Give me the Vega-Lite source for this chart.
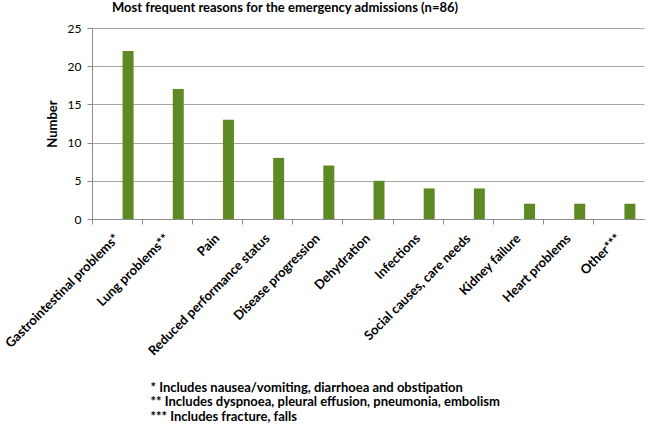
{
  "$schema": "https://vega.github.io/schema/vega-lite/v6.json",
  "autosize": "none",
  "width": 552,
  "height": 191,
  "padding": {"left": 92, "top": 28, "right": 4, "bottom": 213},
  "background": "white",
  "title": {
    "text": "Most frequent reasons for the emergency admissions (n=86)",
    "anchor": "start",
    "frame": "group",
    "dx": 20,
    "offset": 7,
    "font": "Lato",
    "fontSize": 13,
    "fontWeight": "bold",
    "color": "#000000"
  },
  "data": {
    "values": [
      {"reason": "Gastrointestinal  problems*", "n": 22},
      {"reason": "Lung problems**", "n": 17},
      {"reason": "Pain", "n": 13},
      {"reason": "Reduced performance  status", "n": 8},
      {"reason": "Disease progression", "n": 7},
      {"reason": "Dehydration", "n": 5},
      {"reason": "Infections", "n": 4},
      {"reason": "Social causes, care needs", "n": 4},
      {"reason": "Kidney failure", "n": 2},
      {"reason": "Heart problems", "n": 2},
      {"reason": "Other***", "n": 2}
    ]
  },
  "mark": {"type": "bar", "width": 11, "xOffset": 11, "color": "#5E8A24"},
  "encoding": {
    "x": {
      "field": "reason",
      "type": "nominal",
      "sort": null,
      "scale": {"paddingInner": 0, "paddingOuter": 0},
      "axis": {
        "labelAngle": -45,
        "labelAlign": "right",
        "labelBaseline": "middle",
        "labelFont": "Lato",
        "labelFontSize": 13,
        "labelFontWeight": "bold",
        "labelColor": "#000000",
        "labelPadding": 12,
        "bandPosition": 0,
        "domainColor": "#8c8c8c",
        "tickColor": "#8c8c8c",
        "tickSize": 5,
        "title": [
          "* Includes nausea/vomiting, diarrhoea  and obstipation",
          "** Includes dyspnoea, pleural  effusion, pneumonia, embolism",
          "***  Includes fracture, falls"
        ],
        "titleFont": "Lato",
        "titleFontSize": 13,
        "titleFontWeight": "bold",
        "titleColor": "#000000",
        "titleAnchor": "start",
        "titleAlign": "left",
        "titleX": 58,
        "titleY": 162,
        "titleLineHeight": 14.5
      }
    },
    "y": {
      "field": "n",
      "type": "quantitative",
      "scale": {"domain": [0, 25]},
      "axis": {
        "values": [0, 5, 10, 15, 20, 25],
        "title": "Number",
        "titleFont": "Lato",
        "titleFontSize": 13,
        "titleFontWeight": "bold",
        "titleColor": "#000000",
        "titlePadding": 8,
        "labelFont": "Lato",
        "labelFontSize": 12,
        "labelColor": "#000000",
        "labelPadding": 6,
        "domainColor": "#8c8c8c",
        "tickColor": "#8c8c8c",
        "tickSize": 5,
        "gridColor": "#a6a6a6",
        "grid": true
      }
    }
  },
  "config": {"view": {"stroke": null}}
}
